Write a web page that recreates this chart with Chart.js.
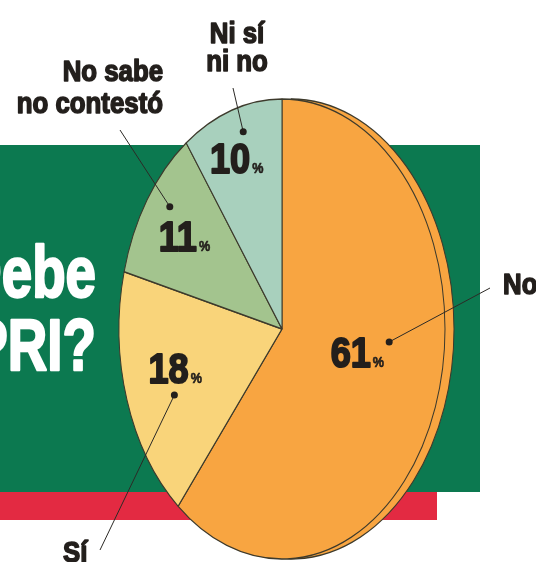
<!DOCTYPE html>
<html>
<head>
<meta charset="utf-8">
<script src="https://cdn.jsdelivr.net/npm/chart.js@4"></script>
<style>
  html, body { margin: 0; padding: 0; background: #ffffff; }
  #wrap { width: 536px; height: 562px; position: relative; overflow: hidden; }
</style>
</head>
<body>
<div id="wrap"><canvas id="grafica"></canvas></div>
<script>
// Datos
const categorias = ["No", "Sí", "No sabe no contestó", "Ni sí ni no"];
const porcentajes = [61, 18, 11, 10];
const rotulos = [["No"], ["Sí"], ["No sabe", "no contestó"], ["Ni sí", "ni no"]];
const tituloLineas = ["¿Debe", "PRI?"];

const colores = ["#f8a541", "#f9d47a", "#a3c48e", "#a8d0bd"];
const verdeFondo = "#0c7950";
const rojoFranja = "#e32a42";
const tinta = "#231f1c";

// Elipse del pastel (la gráfica original está achatada)
const pastel = { cx: 282, cy: 329, rx: 163.5, ry: 230 };
const bordeDesplazado = 9;   // canto "3D" de la rebanada naranja

// Posición de cifras, puntos y llamadas (ángulo desde arriba, fracción del radio)
const llamadas = [
  { pct: [102.3, 0.47], punto: [94.9, 0.66], fin: [490, 288], texto: [503, 286], alinear: "left", lineas: [0] },
  { pct: [255.5, 0.68], punto: [246.5, 0.72], fin: [100, 550], texto: [63, 554], alinear: "left", lineas: [0] },
  { pct: [303.9, 0.725], punto: [307.7, 0.87], fin: [120, 130], texto: [163, 73], alinear: "right", lineas: [0, 32] },
  { pct: [339.3, 0.795], punto: [344.5, 0.89], fin: [233, 88], texto: [237, 35], alinear: "center", lineas: [0, 28] }
];

// texto angosto y grueso (relleno + trazo del mismo color)
function textoAngosto(ctx, texto, x, y, escala, alinear, grosor) {
  ctx.save();
  ctx.translate(x, y);
  ctx.scale(escala, 1);
  ctx.textAlign = alinear;
  ctx.fillText(texto, 0, 0);
  if (grosor) {
    ctx.lineJoin = "round";
    ctx.lineWidth = grosor;
    ctx.strokeStyle = ctx.fillStyle;
    ctx.strokeText(texto, 0, 0);
  }
  ctx.restore();
}

function polar(arco, grados, frac, achatar) {
  const a = grados * Math.PI / 180;
  const r = arco.outerRadius * frac;
  return [arco.x + r * Math.sin(a), arco.y - r * Math.cos(a) * achatar];
}

const fondoPlugin = {
  id: "fondo",
  beforeDraw(chart) {
    const ctx = chart.ctx;
    ctx.save();
    ctx.fillStyle = "#ffffff";
    ctx.fillRect(0, 0, chart.width, chart.height);
    ctx.fillStyle = verdeFondo;
    ctx.fillRect(0, 145, 480, 347);
    ctx.fillStyle = rojoFranja;
    ctx.fillRect(0, 492, 437, 28);

    ctx.fillStyle = "#ffffff";
    ctx.textBaseline = "alphabetic";
    ctx.font = "bold 72px 'Liberation Sans', Arial, sans-serif";
    textoAngosto(ctx, tituloLineas[0], 96, 297, 0.76, "right", 2.5);
    textoAngosto(ctx, tituloLineas[1], 96, 370, 0.76, "right", 2.5);
    ctx.restore();
  }
};

const elipsePlugin = {
  id: "elipse",
  beforeDatasetsDraw(chart) {
    const ctx = chart.ctx;
    const arcos = chart.getDatasetMeta(0).data;
    const a0 = arcos[0];
    const achatar = pastel.ry / a0.outerRadius;
    ctx.save();
    ctx.translate(a0.x, a0.y);
    ctx.scale(1, achatar);
    ctx.translate(-a0.x, -a0.y);
    // canto de la rebanada mayor
    ctx.save();
    ctx.translate(bordeDesplazado, 0);
    a0.draw(ctx);
    ctx.restore();
  },
  afterDatasetsDraw(chart) {
    const ctx = chart.ctx;
    ctx.restore();
    const arcos = chart.getDatasetMeta(0).data;
    const achatar = pastel.ry / arcos[0].outerRadius;

    ctx.save();
    ctx.strokeStyle = "#2c2a26";
    ctx.fillStyle = tinta;
    ctx.lineWidth = 1;
    llamadas.forEach((l, i) => {
      const arco = arcos[i];
      const p = polar(arco, l.punto[0], l.punto[1], achatar);
      ctx.beginPath();
      ctx.moveTo(p[0], p[1]);
      ctx.lineTo(l.fin[0], l.fin[1]);
      ctx.lineWidth = 1;
      ctx.strokeStyle = "#2c2a26";
      ctx.stroke();
      ctx.beginPath();
      ctx.arc(p[0], p[1], 3.5, 0, Math.PI * 2);
      ctx.fill();

      // cifra y signo de porcentaje
      const c = polar(arco, l.pct[0], l.pct[1], achatar);
      const num = String(porcentajes[i]);
      ctx.font = "bold 42px 'Liberation Sans', Arial, sans-serif";
      const wNum = ctx.measureText(num).width * 0.86;
      ctx.font = "bold 14px 'Liberation Sans', Arial, sans-serif";
      const wPct = ctx.measureText("%").width * 0.9;
      const x0 = c[0] - (wNum + wPct + 1) / 2;
      ctx.textBaseline = "alphabetic";
      ctx.font = "bold 42px 'Liberation Sans', Arial, sans-serif";
      textoAngosto(ctx, num, x0, c[1] + 15, 0.86, "left", 2);
      ctx.font = "bold 14px 'Liberation Sans', Arial, sans-serif";
      textoAngosto(ctx, "%", x0 + wNum + 2, c[1] + 15, 0.9, "left", 0.6);

      // rótulo de la categoría
      ctx.font = "bold 30px 'Liberation Sans', Arial, sans-serif";
      ctx.textBaseline = "middle";
      rotulos[i].forEach((t, k) => {
        textoAngosto(ctx, t, l.texto[0], l.texto[1] + l.lineas[k], 0.86, l.alinear, 1.6);
      });
    });
    ctx.restore();
  }
};

new Chart(document.getElementById("grafica"), {
  type: "pie",
  data: {
    labels: categorias,
    datasets: [{
      data: porcentajes,
      backgroundColor: colores,
      borderColor: "#3d3a2c",
      borderWidth: 1
    }]
  },
  options: {
    responsive: true,
    maintainAspectRatio: false,
    animation: false,
    devicePixelRatio: 1,
    layout: {
      padding: {
        left: pastel.cx - pastel.rx,
        right: 536 - (pastel.cx + pastel.rx),
        top: pastel.cy - pastel.rx,
        bottom: 562 - (pastel.cy + pastel.rx)
      }
    },
    plugins: {
      legend: { display: false },
      tooltip: { enabled: false }
    }
  },
  plugins: [fondoPlugin, elipsePlugin]
});
</script>
</body>
</html>
